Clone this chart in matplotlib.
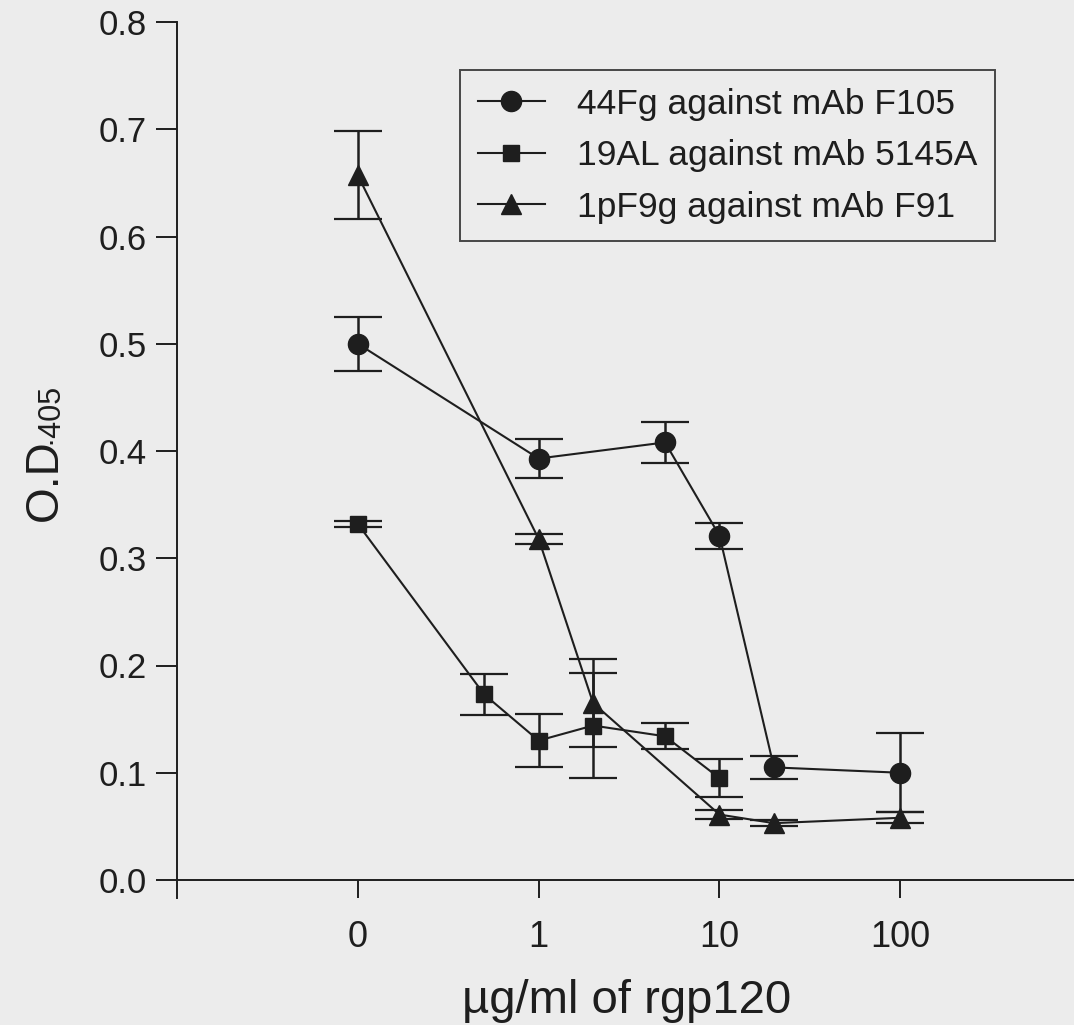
import numpy as np
import matplotlib.pyplot as plt

## ## data (x = ug/ml of rgp120, 0 drawn at the "0" tick)
conc_44fg = [0, 1, 5, 10, 20, 100]
od_44fg = [0.500, 0.393, 0.408, 0.321, 0.105, 0.100]
err_44fg = [0.025, 0.018, 0.019, 0.012, 0.011, 0.037]

conc_19al = [0, 0.5, 1, 2, 5, 10]
od_19al = [0.332, 0.173, 0.130, 0.144, 0.134, 0.095]
err_19al = [0.003, 0.019, 0.025, 0.049, 0.012, 0.018]

conc_1pf9g = [0, 1, 2, 10, 20, 100]
od_1pf9g = [0.657, 0.318, 0.165, 0.061, 0.053, 0.058]
err_1pf9g = [0.041, 0.005, 0.041, 0.004, 0.003, 0.005]

labels = ["44Fg against mAb F105", "19AL against mAb 5145A", "1pF9g against mAb F91"]
tick_vals = [0.1, 1, 10, 100]
tick_labels = ["0", "1", "10", "100"]

plt.rcParams['font.family'] = ['Liberation Sans', 'DejaVu Sans']
ink = '#1e1e1e'
paper = '#ececec'


def xpos(c):
    # zero concentration is put one decade below 1 on the log axis
    c = np.asarray(c, dtype=float)
    return np.where(c == 0, 0.1, c)


fig = plt.figure(figsize=(10.74, 10.25), dpi=100, facecolor=paper)
ax = fig.add_axes([177 / 1074, 1 - 880 / 1025 - 18 / 1025, 1 - 177 / 1074, (880 - 22 + 18) / 1025])
ax.set_facecolor(paper)

series = [
    (conc_44fg, od_44fg, err_44fg, 'o', 14.5),
    (conc_19al, od_19al, err_19al, 's', 12),
    (conc_1pf9g, od_1pf9g, err_1pf9g, '^', 14.5),
]
handles = []
for (c, y, e, m, ms), lab in zip(series, labels):
    ax.errorbar(xpos(c), y, yerr=e, fmt='none', ecolor=ink, elinewidth=1.8,
                capsize=17, capthick=1.6, zorder=2)
    h, = ax.plot(xpos(c), y, color=ink, lw=1.5, marker=m, ms=ms,
                 mfc=ink, mec=ink, label=lab, zorder=3)
    handles.append(h)

ax.set_xscale('log')
ax.set_xlim(0.01, 913)
ax.set_ylim(-18 / 1072.5, 0.8)
ax.xaxis.set_minor_locator(plt.NullLocator())
ax.set_xticks(tick_vals)
ax.set_xticklabels(tick_labels)
ax.set_yticks(np.arange(0, 0.81, 0.1))
ax.set_yticklabels(["%.1f" % v for v in np.arange(0, 0.81, 0.1)])

for s in ['top', 'right']:
    ax.spines[s].set_visible(False)
ax.spines['bottom'].set_position(('data', 0))
for s in ['left', 'bottom']:
    ax.spines[s].set_linewidth(1.4)
    ax.spines[s].set_color(ink)
ax.tick_params(axis='x', direction='out', length=13, width=1.4, colors=ink,
               labelsize=26, pad=16)
ax.tick_params(axis='y', direction='out', length=15, width=1.4, colors=ink,
               labelsize=25, pad=7)

## ## axis labels
fig.text(627 / 1074, 1 - 1013 / 1025, "\u00b5g/ml of rgp120", fontsize=34,
         ha='center', va='baseline', color=ink)
fig.text(57 / 1074, 1 - 521 / 1025, "O.D", fontsize=33, rotation=90,
         rotation_mode='anchor', ha='left', va='baseline', color=ink)
fig.text(57 / 1074, 1 - 444 / 1025, "\u00b7405", fontsize=22, rotation=90,
         rotation_mode='anchor', ha='left', va='baseline', color=ink)

leg = ax.legend(handles=handles, loc='upper left',
                bbox_to_anchor=(460 / 1074, 1 - 70 / 1025), bbox_transform=fig.transFigure,
                borderaxespad=0, fontsize=25.5, handlelength=1.9, handletextpad=0.9,
                labelspacing=0.52, borderpad=0.5, fancybox=False, frameon=True)
leg.get_frame().set_edgecolor(ink)
leg.get_frame().set_linewidth(1.4)
leg.get_frame().set_facecolor('none')
for t in leg.get_texts():
    t.set_color(ink)

plt.savefig("out.png", dpi=100, facecolor=paper)
